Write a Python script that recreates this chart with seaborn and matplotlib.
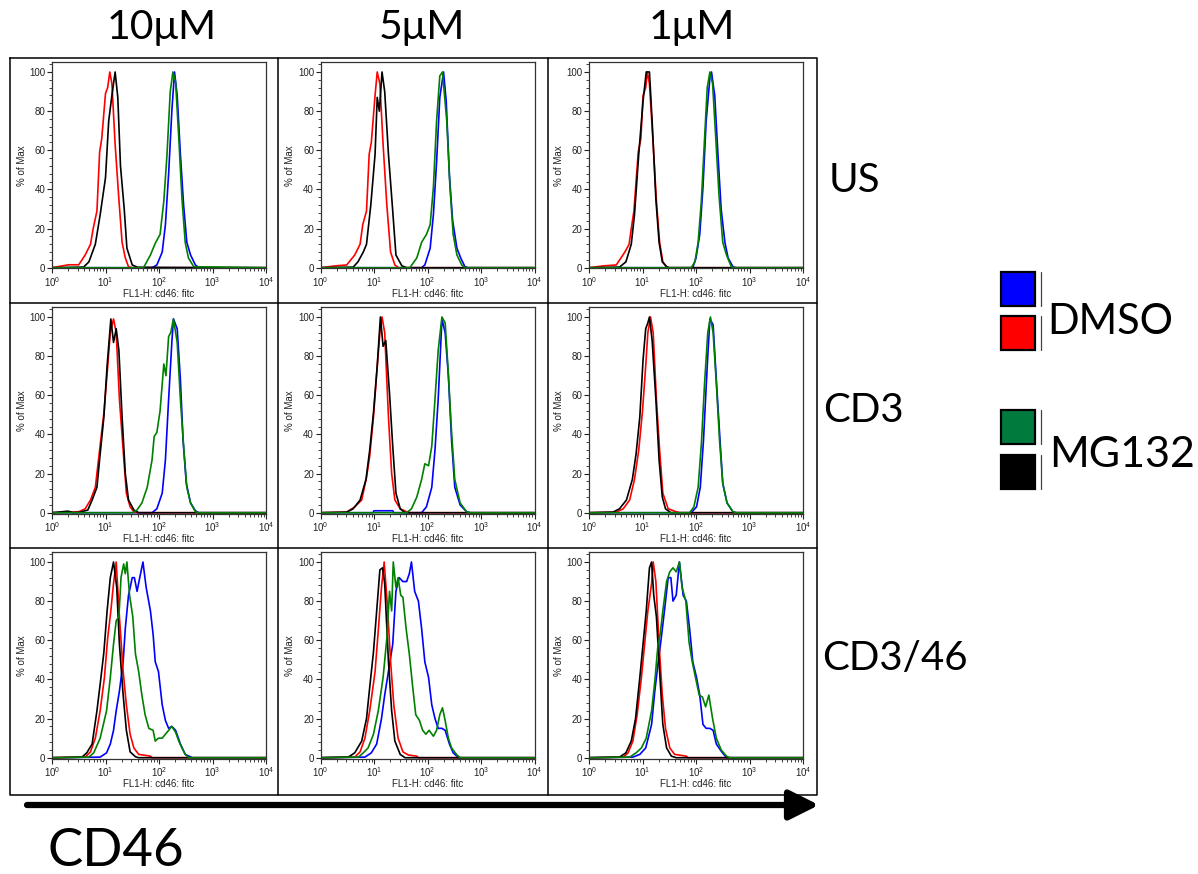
import numpy as np
import pandas as pd
import matplotlib
matplotlib.use("Agg")
import matplotlib.pyplot as plt
import seaborn as sns
from matplotlib.ticker import FixedLocator, NullFormatter, AutoMinorLocator
from matplotlib.lines import Line2D
from matplotlib.patches import Rectangle

# ---------------- data (log10 FL1-H, % of Max) ----------------
concentrations = ["10\u03bcM", "5\u03bcM", "1\u03bcM"]
stimulations = ["US", "CD3", "CD3/46"]
series_colors = {"blue": "#0000FF", "red": "#FF0000", "green": "#008000", "black": "#000000"}
legend_groups = ["DMSO", "MG132"]
x_tick_labels = ["$10^{0}$", "$10^{1}$", "$10^{2}$", "$10^{3}$", "$10^{4}$"]
y_ticks = [0, 20, 40, 60, 80, 100]

# US row
us10_red = [(0.31,1.5),(0.5,1.5),(0.62,6.5),(0.72,12),(0.77,20),(0.84,29),(0.89,59),(0.93,66),(1.0,89),(1.04,92),(1.08,100),(1.12,94),(1.18,63),(1.25,35),(1.31,13),(1.37,5),(1.43,0.5),(1.5,0)]
us10_black = [(0.59,0.3),(0.69,3),(0.81,12),(0.9,27),(1.0,46),(1.06,75),(1.12,88),(1.18,100),(1.23,87),(1.28,52),(1.35,30),(1.4,10),(1.5,1.4),(1.6,0.2)]
us10_green = [(1.71,0),(1.84,6.5),(1.93,12.5),(2.02,17),(2.09,34),(2.15,58),(2.21,90),(2.26,100),(2.31,95),(2.37,66),(2.43,35),(2.49,13),(2.55,5),(2.65,0.5)]
us10_blue = [(1.87,0),(1.96,1.4),(2.06,8),(2.12,22),(2.18,48),(2.24,80),(2.29,100),(2.34,88),(2.4,58),(2.46,32),(2.52,13),(2.59,6.5),(2.68,1.4),(2.75,0)]

us5_red = [(0.3,1),(0.49,1.4),(0.64,6.5),(0.74,12),(0.79,22),(0.86,29),(0.91,58),(0.95,64),(1.02,88),(1.06,100),(1.11,94),(1.17,63),(1.24,32),(1.31,8),(1.39,1.4),(1.46,0)]
us5_black = [(0.61,0.3),(0.7,3),(0.8,8),(0.86,12),(0.94,32),(1.02,58),(1.06,87),(1.1,80),(1.15,100),(1.2,90),(1.27,58),(1.35,29),(1.41,6.5),(1.52,1),(1.61,0)]
us5_green = [(1.67,0),(1.8,5),(1.89,13),(1.98,17),(2.05,22),(2.11,41),(2.17,75),(2.23,98),(2.28,100),(2.36,75),(2.42,41),(2.48,17),(2.55,6.5),(2.64,1.4),(2.7,0)]
us5_blue = [(1.89,0),(1.95,1.4),(2.05,10),(2.11,27),(2.17,54),(2.23,87),(2.3,100),(2.35,85),(2.41,47),(2.47,24),(2.55,10),(2.62,5),(2.7,0.5),(2.76,0)]

us1_red = [(0.29,1),(0.51,1.4),(0.67,8),(0.75,12),(0.79,20),(0.84,29),(0.92,59),(0.97,66),(1.01,88),(1.06,92),(1.09,100),(1.13,94),(1.2,63),(1.26,34),(1.32,13),(1.38,3),(1.45,0.5),(1.5,0)]
us1_black = [(0.57,0.3),(0.69,3),(0.79,12),(0.85,27),(0.93,58),(1.01,85),(1.07,100),(1.13,100),(1.18,75),(1.25,35),(1.31,13),(1.37,3),(1.45,0.5),(1.5,0)]
us1_green = [(1.91,0),(1.98,3),(2.04,13),(2.1,34),(2.16,66),(2.21,92),(2.26,100),(2.31,94),(2.37,66),(2.43,37),(2.5,13),(2.57,6.5),(2.66,0.5),(2.72,0)]
us1_blue = [(1.94,0),(2.0,5),(2.07,17),(2.13,41),(2.19,75),(2.26,97),(2.29,100),(2.35,88),(2.41,58),(2.47,30),(2.54,13),(2.6,5),(2.69,0.5),(2.75,0)]

# CD3 row
cd3_10_red = [(0.5,0.5),(0.62,2),(0.72,6.5),(0.81,13),(0.89,32),(0.97,51),(1.03,71),(1.09,92),(1.15,99),(1.2,92),(1.26,58),(1.33,32),(1.39,10),(1.46,3),(1.53,0.5),(1.6,0)]
cd3_10_black = [(0.3,0.8),(0.4,0),(0.53,0.3),(0.67,1.4),(0.75,6.5),(0.84,13),(0.9,30),(0.97,49),(1.03,75),(1.1,99),(1.15,87),(1.2,94),(1.25,83),(1.31,49),(1.37,20),(1.43,6.5),(1.53,1.4),(1.62,0)]
cd3_10_green = [(1.5,0),(1.59,1.4),(1.68,5),(1.78,13),(1.87,27),(1.91,39),(1.96,41),(2.02,52),(2.09,76),(2.13,70),(2.18,90),(2.22,92),(2.27,99),(2.34,87),(2.4,58),(2.46,34),(2.52,13),(2.59,5),(2.68,0.5),(2.74,0)]
cd3_10_blue = [(1.87,0),(1.96,2),(2.06,10),(2.12,27),(2.18,58),(2.24,87),(2.27,99),(2.34,94),(2.4,68),(2.45,37),(2.51,15),(2.59,5),(2.68,1),(2.74,0)]

cd3_5_red = [(0.49,0.3),(0.64,3),(0.77,6.5),(0.86,18),(0.92,29),(0.99,49),(1.05,71),(1.11,92),(1.15,100),(1.2,92),(1.27,49),(1.33,20),(1.39,6.5),(1.49,2),(1.61,0.5),(1.68,0)]
cd3_5_black = [(0.49,0.3),(0.61,2),(0.74,6.5),(0.85,17),(0.92,32),(0.99,51),(1.06,75),(1.12,100),(1.17,85),(1.22,88),(1.29,61),(1.35,34),(1.41,10),(1.49,2),(1.58,0)]
cd3_5_green = [(1.61,0),(1.7,2),(1.8,8),(1.89,17),(1.95,25),(2.02,24),(2.08,34),(2.14,58),(2.2,83),(2.27,100),(2.33,97),(2.39,71),(2.45,41),(2.51,17),(2.61,5),(2.73,0.5),(2.8,0)]
cd3_5_blue = [(0.98,0),(1.0,1),(1.35,1),(1.37,0),(1.89,0),(1.98,3),(2.08,13),(2.14,32),(2.2,58),(2.27,99),(2.33,92),(2.39,70),(2.45,37),(2.51,13),(2.61,4),(2.73,0.5),(2.8,0)]

cd3_1_red = [(0.51,0.3),(0.64,2),(0.76,6.5),(0.85,17),(0.93,32),(1.0,52),(1.06,75),(1.1,92),(1.15,100),(1.2,92),(1.26,58),(1.32,32),(1.38,10),(1.48,2),(1.63,0.5),(1.7,0)]
cd3_1_black = [(0.45,0.3),(0.57,2),(0.7,6.5),(0.81,17),(0.88,30),(0.95,49),(1.01,78),(1.06,94),(1.1,97),(1.13,100),(1.18,88),(1.25,58),(1.31,27),(1.37,8),(1.43,2),(1.53,0)]
cd3_1_green = [(1.88,0),(1.96,3),(2.04,13),(2.1,35),(2.16,66),(2.22,92),(2.27,100),(2.32,92),(2.38,66),(2.44,37),(2.5,15),(2.58,5),(2.69,0.5),(2.75,0)]
cd3_1_blue = [(1.91,0),(2.01,3),(2.08,13),(2.14,37),(2.21,75),(2.26,99),(2.32,96),(2.38,68),(2.44,41),(2.5,15),(2.58,5),(2.69,0.5),(2.75,0)]

# CD3/46 row
cd346_10_black = [(0.56,0.3),(0.65,2.5),(0.75,7),(0.84,24),(0.9,37.5),(0.97,54),(1.03,75),(1.09,92),(1.15,100),(1.21,87),(1.26,58),(1.33,32),(1.39,14),(1.46,3),(1.56,0.5),(1.62,0)]
cd346_10_red = [(0.62,0.3),(0.72,3),(0.81,10),(0.9,24),(0.98,41),(1.04,61),(1.1,75),(1.15,89),(1.2,100),(1.26,72),(1.33,44),(1.39,27),(1.46,12),(1.53,5),(1.62,1.7),(1.84,0.8),(1.87,0)]
cd346_10_green = [(0.69,0.3),(0.78,2.5),(0.9,10),(1.02,24),(1.09,41),(1.15,58),(1.2,70),(1.25,72),(1.29,92),(1.34,99),(1.37,94),(1.4,100),(1.45,83),(1.51,72),(1.56,53),(1.62,44),(1.68,32),(1.74,22),(1.81,15),(1.89,14),(1.93,8.5),(1.99,10),(2.06,10),(2.12,12),(2.18,14),(2.24,16),(2.31,13),(2.37,8.5),(2.43,5),(2.49,1.7),(2.56,0)]
cd346_10_blue = [(0.9,0.3),(1.02,2.5),(1.09,7),(1.15,14),(1.2,24),(1.26,34),(1.33,49),(1.37,66),(1.43,83),(1.5,92),(1.54,92),(1.59,85),(1.64,92),(1.7,100),(1.76,87),(1.84,75),(1.89,63),(1.93,49),(1.99,44),(2.06,27),(2.12,19),(2.18,15),(2.24,16),(2.31,14),(2.4,7),(2.49,1.7),(2.62,0)]

cd346_5_black = [(0.52,0.3),(0.64,2.5),(0.77,8.5),(0.86,20),(0.92,36),(0.99,54),(1.05,75),(1.11,96),(1.16,97),(1.2,89),(1.27,49),(1.33,24),(1.39,8.5),(1.49,1.7),(1.58,0)]
cd346_5_red = [(0.64,0.3),(0.74,3),(0.83,10),(0.92,24),(1.02,44),(1.08,65),(1.14,87),(1.19,100),(1.25,78),(1.31,49),(1.37,27),(1.45,10),(1.54,3),(1.64,1.4),(1.8,0.8),(1.83,0)]
cd346_5_green = [(0.71,0.3),(0.8,2.5),(0.89,5),(0.99,12),(1.08,24),(1.17,41),(1.24,61),(1.29,85),(1.33,75),(1.36,100),(1.41,87),(1.45,92),(1.5,83),(1.54,82),(1.6,66),(1.66,53),(1.72,37),(1.78,22),(1.85,19),(1.91,14),(1.97,12),(2.03,14),(2.11,11),(2.17,14),(2.23,22),(2.28,25.5),(2.33,19),(2.39,10),(2.45,5),(2.55,1.4),(2.61,0)]
cd346_5_blue = [(0.83,0.3),(0.95,2.5),(1.05,7),(1.14,20),(1.2,32),(1.27,44),(1.35,58),(1.41,85),(1.47,92),(1.54,90),(1.61,90),(1.66,94),(1.7,100),(1.76,85),(1.83,80),(1.89,66),(1.95,49),(2.02,41),(2.08,27),(2.14,20),(2.2,15),(2.27,15),(2.33,14),(2.41,7),(2.48,2.5),(2.58,0)]

cd346_1_black = [(0.57,0.3),(0.69,2.5),(0.79,8.5),(0.87,20),(0.95,41),(1.01,58),(1.07,75),(1.13,97),(1.17,100),(1.21,83),(1.26,72),(1.32,44),(1.38,17),(1.45,5),(1.54,0.8),(1.63,0)]
cd346_1_red = [(0.64,0.3),(0.73,2.5),(0.82,8.5),(0.9,22),(0.98,41),(1.04,58),(1.1,75),(1.17,89),(1.2,100),(1.25,90),(1.31,58),(1.37,32),(1.43,15),(1.51,5),(1.6,1.7),(1.82,0.8),(1.85,0)]
cd346_1_green = [(0.76,0.3),(0.88,2.5),(0.98,5),(1.07,10),(1.17,24),(1.23,39),(1.29,58),(1.33,63),(1.38,75),(1.45,90),(1.51,95),(1.57,97),(1.63,95),(1.69,100),(1.74,87),(1.81,80),(1.87,59),(1.93,49),(1.99,41),(2.06,32),(2.12,31),(2.18,26),(2.24,32),(2.31,20),(2.38,10),(2.47,4),(2.57,0.8),(2.63,0)]
cd346_1_blue = [(0.82,0.3),(0.95,1.7),(1.06,5),(1.17,17),(1.23,34),(1.29,48),(1.35,61),(1.41,75),(1.48,92),(1.53,92),(1.57,80),(1.63,83),(1.69,100),(1.76,83),(1.82,80),(1.88,66),(1.94,49),(2.01,41),(2.07,32),(2.13,17),(2.19,15),(2.26,15),(2.32,14),(2.38,7),(2.47,3.4),(2.57,0)]

panels = {
    ("US", 0): {"red": us10_red, "black": us10_black, "blue": us10_blue, "green": us10_green},
    ("US", 1): {"red": us5_red, "black": us5_black, "blue": us5_blue, "green": us5_green},
    ("US", 2): {"red": us1_red, "black": us1_black, "blue": us1_blue, "green": us1_green},
    ("CD3", 0): {"red": cd3_10_red, "black": cd3_10_black, "blue": cd3_10_blue, "green": cd3_10_green},
    ("CD3", 1): {"red": cd3_5_red, "black": cd3_5_black, "blue": cd3_5_blue, "green": cd3_5_green},
    ("CD3", 2): {"red": cd3_1_red, "black": cd3_1_black, "blue": cd3_1_blue, "green": cd3_1_green},
    ("CD3/46", 0): {"red": cd346_10_red, "black": cd346_10_black, "blue": cd346_10_blue, "green": cd346_10_green},
    ("CD3/46", 1): {"red": cd346_5_red, "black": cd346_5_black, "blue": cd346_5_blue, "green": cd346_5_green},
    ("CD3/46", 2): {"red": cd346_1_red, "black": cd346_1_black, "blue": cd346_1_blue, "green": cd346_1_green},
}
draw_order = ["blue", "red", "black", "green"]

# ---------------- figure ----------------
sns.set_theme(style="white")
plt.rcParams["font.family"] = ["Liberation Sans", "DejaVu Sans"]
plt.rcParams["mathtext.fontset"] = "custom"
plt.rcParams["mathtext.rm"] = "Liberation Sans"
plt.rcParams["mathtext.it"] = "Liberation Sans"

W, H = 1198, 874
fig = plt.figure(figsize=(W / 100, H / 100), dpi=100)
fig.patch.set_facecolor("white")

col_left = [52, 320.5, 589]
row_top = [62, 307, 552]
ax_w, ax_h = 214, 206.5

def px_rect(x0, y0, w, h):
    return [x0 / W, 1 - (y0 + h) / H, w / W, h / H]

for r, stim in enumerate(stimulations):
    for c in range(3):
        ax = fig.add_axes(px_rect(col_left[c], row_top[r], ax_w, ax_h))
        curves = panels[(stim, c)]
        for name in draw_order:
            pts = curves[name]
            lx = [0.0] + [p[0] for p in pts] + [4.0]
            yy = [0.0] + [p[1] for p in pts] + [0.0]
            df = pd.DataFrame({"fl1": np.power(10.0, lx), "pct": yy})
            sns.lineplot(data=df, x="fl1", y="pct", ax=ax, color=series_colors[name],
                         lw=1.2, estimator=None, sort=False)
        ax.set_xscale("log")
        ax.set_xlim(1, 1e4)
        ax.set_ylim(-0.4, 105.1)
        ax.set_xticks([1, 10, 100, 1000, 10000])
        ax.set_xticklabels(x_tick_labels)
        ax.xaxis.set_minor_locator(FixedLocator([m * 10 ** d for d in range(4) for m in range(2, 10)]))
        ax.xaxis.set_minor_formatter(NullFormatter())
        ax.set_yticks(y_ticks)
        ax.yaxis.set_minor_locator(AutoMinorLocator(5))
        ax.tick_params(axis="both", which="major", direction="out", length=3.5, width=0.8,
                       labelsize=7, pad=1.2, colors="#222222", bottom=True, left=True)
        ax.tick_params(axis="both", which="minor", direction="out", length=2, width=0.6,
                       bottom=True, left=True, colors="#222222")
        ax.set_xlabel("FL1-H: cd46: fitc", fontsize=7, labelpad=0.3, color="#222222")
        ax.set_ylabel("% of Max", fontsize=7, labelpad=2, color="#222222")
        for s in ax.spines.values():
            s.set_color("#333333")
            s.set_linewidth(0.9)
            s.set_visible(True)
        ax.grid(False)
        ax.set_facecolor("white")

# overlay for table frame, titles, legend, arrow
ov = fig.add_axes([0, 0, 1, 1], zorder=-1)
ov.set_xlim(0, W)
ov.set_ylim(H, 0)
ov.axis("off")
ov.patch.set_alpha(0)

fr = dict(color="black", lw=1.1)
ov.add_line(Line2D([10, 817, 817, 10, 10], [58, 58, 795, 795, 58], **fr))
for xv in [278, 548]:
    ov.add_line(Line2D([xv, xv], [58, 795], **fr))
for yv in [303, 548]:
    ov.add_line(Line2D([10, 817], [yv, yv], **fr))

big_font = ["Lato", "DejaVu Sans"]
title_x = [162, 422, 692]
for c, t in enumerate(concentrations):
    ov.text(title_x[c], 28, t, ha="center", va="center", fontsize=29.5, family=big_font, color="black")
row_x = [829, 823, 822]
row_y = [180, 410, 658]
for r, t in enumerate(stimulations):
    ov.text(row_x[r], row_y[r], t, ha="left", va="center", fontsize=29, family=big_font, color="black")

# legend
sq = [("blue", 272), ("red", 316), ("green", 410), ("black", 455)]
for name, y0 in sq:
    ov.add_patch(Rectangle((1001, y0), 34, 34, facecolor=series_colors[name] if name != "green" else "#007A3D",
                           edgecolor="black", lw=1.6))
    ov.add_line(Line2D([1041, 1041], [y0, y0 + 34], color="#444444", lw=0.9))
ov.text(1047, 322, legend_groups[0], ha="left", va="center", fontsize=30, family=big_font, color="black")
ov.text(1049, 455, legend_groups[1], ha="left", va="center", fontsize=31, family=big_font, color="black")

# arrow & axis title
ov.annotate("", xy=(819, 805), xytext=(27, 805),
            arrowprops=dict(arrowstyle="-|>,head_length=0.9,head_width=0.45", lw=4.5, color="black",
                            mutation_scale=20, shrinkA=0, shrinkB=0))
ov.text(47, 851, "CD46", ha="left", va="center", fontsize=38, family=big_font, color="black")

fig.savefig("out.png", dpi=100, facecolor="white")
